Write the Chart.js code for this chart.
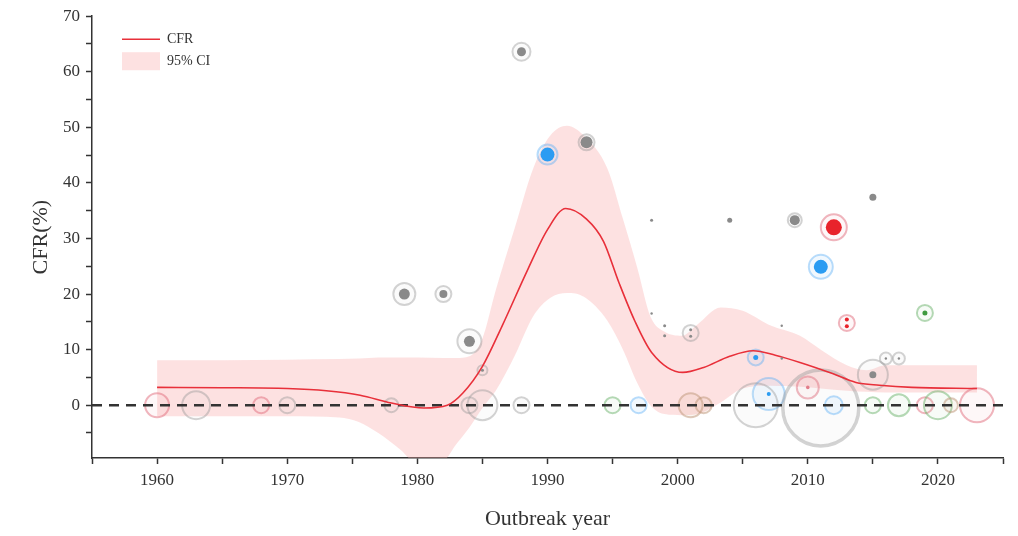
<!DOCTYPE html>
<html><head><meta charset="utf-8">
<script src="https://cdn.jsdelivr.net/npm/chart.js@4.4.0/dist/chart.umd.min.js"></script>
<style>html,body{margin:0;padding:0;background:#fff}#wrap{width:1018px;height:536px;position:relative}</style>
</head><body><div id="wrap"><canvas id="c"></canvas></div>
<script>
// ---- data ----
const cfrYears  = [1960,1965,1970,1973,1975.6,1978,1980.5,1982.3,1983.5,1985,1986.5,1988.5,1990,1991.4,1993,1994.3,1995.5,1996.7,1998,2000.4,2002,2004,2005.8,2007.5,2009.4,2011.9,2013.7,2015.5,2018,2023];
const cfrValues = [3.2,3.15,3.0,2.6,1.8,0.4,-0.5,0.0,2.2,7.0,14.2,24.5,31.6,35.4,33.5,29.5,22.0,15.2,9.5,5.9,6.8,8.8,9.8,9.0,7.7,5.7,4.1,3.6,3.2,3.0];

const ciYears = [1960,1965,1970,1974,1975.5,1977,1978.7,1980,1982,1983,1984,1985,1986,1987.5,1988.9,1990.2,1991.5,1992.8,1994.6,1995.8,1996.9,1997.9,1999,2000.3,2001.5,2003.3,2005,2007,2009.4,2011,2013,2014.5,2016,2023];
const ciUpper = [8.1,8.1,8.2,8.3,8.4,8.6,8.6,8.6,8.5,8.5,8.8,12,20.5,32,42.6,48.5,50.3,48.5,42.6,33.5,24.7,16,13.2,12.5,14.5,17.6,17,14.5,12.5,10,7.2,6.3,7.2,7.2];
const ciLower = [-2,-2,-2,-2.2,-3,-5,-8,-10.5,-10,-7,-4,-0.5,2.5,9,16,19.3,20.2,19.5,15.2,10,4,0,-1.6,-1.8,-1.6,0.5,3,3.5,3.3,3,2.6,2.4,2.3,2.3];

// filled study points
const dotYears  = [1988,1990,1993,1979,1982,1984,1985,1998,2004,2009,2012,2011,2015,2019,2013,2013,1998,1999,1999,2001,2001,2008,2006,2008,2015,2016,2017,2010,2007];
const dotValues = [63.6,45.1,47.3,20.0,20.0,11.5,6.3,33.3,33.3,33.3,32.0,24.9,37.4,16.6,15.4,14.2,16.5,14.3,12.5,13.6,12.4,14.3,8.6,8.4,5.5,8.4,8.4,3.2,2.0];
const dotRadius = [4.5,7,6,5.5,4,5.5,1.5,1.5,2.5,5,8,7,3.5,2.5,2,2,1.2,1.5,1.5,1.5,1.5,1.2,2.5,1.2,3.5,1.2,1.2,1.8,2];
const dotGroup  = ['grey','blue','grey','grey','grey','grey','grey','grey','grey','grey','red','blue','grey','green','red','red','grey','grey','grey','grey','grey','grey','blue','grey','grey','grey','grey','pink','blue'];

// outer rings (sample size)
const ringYears  = [1988,1990,1993,1979,1982,1984,1985,2012,2011,2019,2013,2001,2006,2016,2017,2015,2010,2007,2009,
                    1960,1963,1968,1970,1978,1984,1985,1988,1995,1997,2001,2002,2006,2011,2012,2015,2017,2019,2020,2021,2023];
const ringValues = [63.6,45.1,47.3,20,20,11.5,6.3,32,24.9,16.6,14.8,13,8.6,8.4,8.4,5.5,3.2,2.0,33.3,
                    0,0,0,0,0,0,0,0,0,0,0,0,0,-0.5,0,0,0,0,0,0,0];
const ringRadius = [9,10,8,11,8,12,5,13,12,8,8,8,8,6,6,15,11,16,7,
                    12,14,8,8,7,8,15,8,8,8,12,8,22,38,9,8,11,8,14,7,17];
const ringGroup  = ['grey','blue','grey','grey','grey','grey','grey','red','blue','green','red','grey','blue','grey','grey','grey','red','blue','grey',
                    'red','grey','red','grey','grey','grey','grey','grey','green','blue','tan','tan','grey','grey','blue','green','green','red','green','tan','red'];

const xTicks = [1955,1960,1965,1970,1975,1980,1985,1990,1995,2000,2005,2010,2015,2020,2025];
const xLabelled = [1960,1970,1980,1990,2000,2010,2020];
const yTicks = [-5,0,5,10,15,20,25,30,35,40,45,50,55,60,65,70];
const yLabelled = [0,10,20,30,40,50,60,70];

// ---- styles ----
const dotColor = {grey:'#8a8a8a', blue:'#2b9cf2', red:'#e8232b', green:'#3f9a3f', pink:'#e27d8a'};
const ringLine = {grey:'rgba(150,150,150,0.42)', blue:'rgba(90,175,245,0.42)', red:'rgba(225,110,125,0.5)', green:'rgba(110,180,110,0.5)', tan:'rgba(190,150,120,0.5)'};
const ringFill = {grey:'rgba(200,200,200,0.08)', blue:'rgba(120,190,250,0.10)', red:'rgba(240,150,160,0.08)', green:'rgba(150,210,150,0.08)', tan:'rgba(210,170,140,0.12)'};

const pts = (xs, ys) => xs.map((x,i)=>({x:x, y:ys[i]}));
const bub = (xs, ys, rs) => xs.map((x,i)=>({x:x, y:ys[i], r:rs[i]}));

Chart.defaults.font.family = '"Liberation Serif","Times New Roman",serif';
Chart.defaults.color = '#333';

const legendPlugin = {
  id:'innerLegend',
  afterDraw(chart){
    const {ctx, chartArea} = chart;
    const x0 = chartArea.left + 30, y0 = chartArea.top + 23;
    ctx.save();
    ctx.strokeStyle = '#e8303a'; ctx.lineWidth = 1.6;
    ctx.beginPath(); ctx.moveTo(x0, y0); ctx.lineTo(x0+38, y0); ctx.stroke();
    ctx.fillStyle = 'rgba(248,170,170,0.35)';
    ctx.fillRect(x0, y0+13, 38, 18);
    ctx.fillStyle = '#333'; ctx.font = '14px "Liberation Serif", serif';
    ctx.textBaseline = 'middle'; ctx.textAlign = 'left';
    ctx.fillText('CFR', x0+45, y0);
    ctx.fillText('95% CI', x0+45, y0+22);
    ctx.restore();
  }
};

new Chart(document.getElementById('c'), {
  type:'bubble',
  data:{
    datasets:[
      {type:'line', label:'lower', data:pts(ciYears, ciLower), borderWidth:0, pointRadius:0, fill:false, cubicInterpolationMode:'monotone', order:11},
      {type:'line', label:'95% CI', data:pts(ciYears, ciUpper), borderWidth:0, pointRadius:0, fill:'-1', backgroundColor:'rgba(248,170,170,0.35)', cubicInterpolationMode:'monotone', order:10},
      {type:'line', label:'zero', data:pts([1955,2025],[0,0]), borderColor:'#333', borderWidth:2.5, borderDash:[10,7], pointRadius:0, fill:false, order:3},
      {type:'bubble', label:'rings', data:bub(ringYears, ringValues, ringRadius),
        backgroundColor:(c)=>ringFill[ringGroup[c.dataIndex]], borderColor:(c)=>ringLine[ringGroup[c.dataIndex]],
        borderWidth:(c)=> ringRadius[c.dataIndex] > 30 ? 3.5 : 2, order:4},
      {type:'line', label:'CFR', data:pts(cfrYears, cfrValues), borderColor:'#e8303a', borderWidth:1.6, pointRadius:0, fill:false, cubicInterpolationMode:'monotone', order:2},
      {type:'bubble', label:'dots', data:bub(dotYears, dotValues, dotRadius),
        backgroundColor:(c)=>dotColor[dotGroup[c.dataIndex]], borderWidth:0, order:1}
    ]
  },
  options:{
    responsive:true, maintainAspectRatio:false, animation:false,
    layout:{autoPadding:false, padding:{left:0,right:15,top:14,bottom:0}},
    plugins:{legend:{display:false}, tooltip:{enabled:false}},
    events:[],
    scales:{
      x:{type:'linear', min:1955, max:2025,
        afterBuildTicks:(s)=>{ s.ticks = xTicks.map(v=>({value:v})); },
        afterFit:(s)=>{ s.height = 78; },
        ticks:{font:{size:17}, color:'#333', padding:6, maxRotation:0, autoSkip:false,
          callback:(v)=> xLabelled.includes(v) ? String(v) : ''},
        grid:{drawOnChartArea:false, drawTicks:true, tickLength:6, tickColor:'#333', tickWidth:1.5},
        border:{display:true, color:'#333', width:1.5},
        title:{display:true, text:'Outbreak year', font:{size:22}, color:'#333', padding:{top:4,bottom:4}}
      },
      y:{type:'linear', min:-9.5, max:70,
        afterBuildTicks:(s)=>{ s.ticks = yTicks.map(v=>({value:v})); },
        afterFit:(s)=>{ s.width = 92; },
        ticks:{font:{size:17}, color:'#333', padding:6, autoSkip:false,
          callback:(v)=> yLabelled.includes(v) ? String(v) : ''},
        grid:{drawOnChartArea:false, drawTicks:true, tickLength:6, tickColor:'#333', tickWidth:1.5},
        border:{display:true, color:'#333', width:1.5},
        title:{display:true, text:'CFR(%)', font:{size:22}, color:'#333', padding:{top:28,bottom:4}}
      }
    }
  },
  plugins:[legendPlugin]
});
</script>
</body></html>
